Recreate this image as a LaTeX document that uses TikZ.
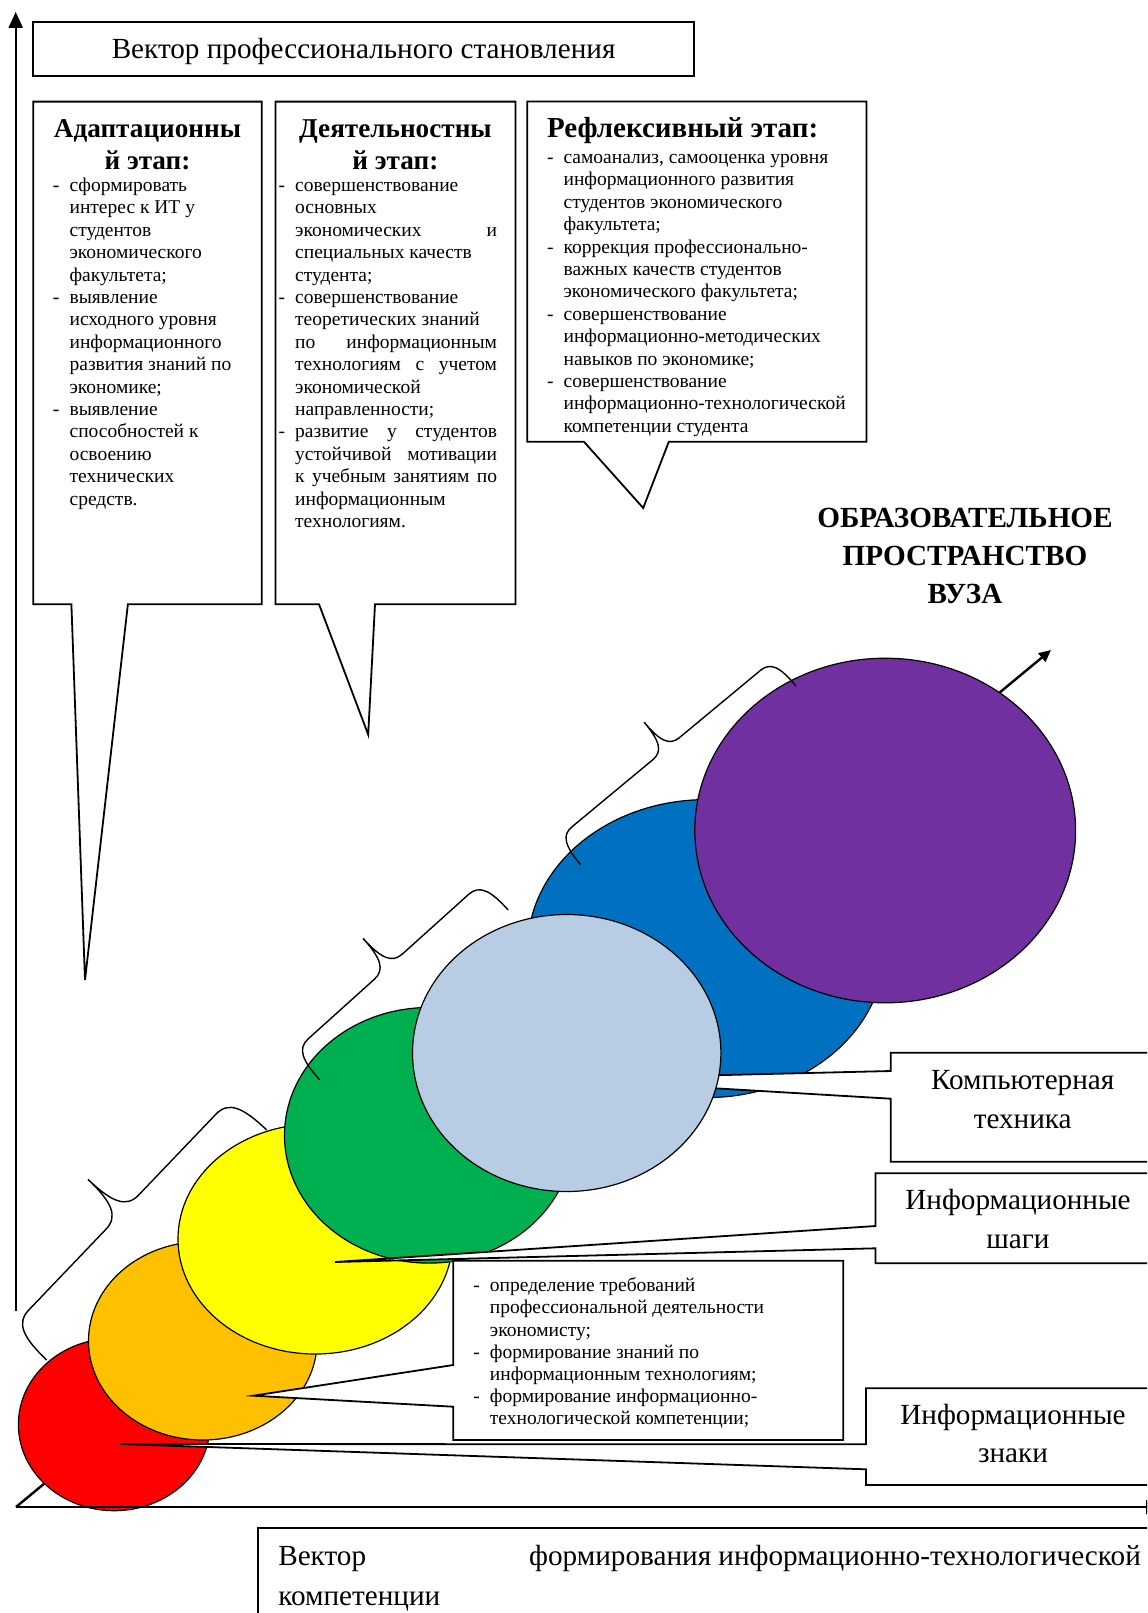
\documentclass[tikz,border=0pt]{standalone}
\usepackage{fontspec}
\setmainfont{Liberation Serif}
\usetikzlibrary{arrows.meta,shapes.geometric}

\definecolor{stageRed}{HTML}{FF0000}
\definecolor{stageOrange}{HTML}{FFC000}
\definecolor{stageYellow}{HTML}{FFFF00}
\definecolor{stageGreen}{HTML}{00B050}
\definecolor{stageSky}{HTML}{B8CCE4}
\definecolor{stageBlue}{HTML}{0070C0}
\definecolor{stagePurple}{HTML}{7030A0}

\newcommand\dashpt{\makebox[8.3pt][l]{-}}
\newcommand\indpt{\hspace*{8.3pt}}
\newcommand\justline[1]{\makebox[100.9pt][s]{#1}}

\tikzset{
  pics/stagebrace/.style 2 args={code={
    \draw[line width=0.7pt]
      (0,0) .. controls (0,{-0.35*#2}) and ({0.06*#2},{-0.5*#2}) .. ({0.25*#2},{-0.5*#2})
      -- ({#1/2-0.25*#2},{-0.5*#2})
      .. controls ({#1/2-0.06*#2},{-0.5*#2}) and ({#1/2},{-0.65*#2}) .. ({#1/2},{-#2})
      .. controls ({#1/2},{-0.65*#2}) and ({#1/2+0.06*#2},{-0.5*#2}) .. ({#1/2+0.25*#2},{-0.5*#2})
      -- ({#1-0.25*#2},{-0.5*#2})
      .. controls ({#1-0.06*#2},{-0.5*#2}) and (#1,{-0.35*#2}) .. (#1,0);
  }}
}

\begin{document}
\begin{tikzpicture}
  [x=0.5pt,y=-0.5pt,every node/.style={inner sep=0pt,outer sep=0pt}]

  \tikzstyle{stage}   = [draw,ellipse,line width=0.6pt]
  \tikzstyle{callout} = [draw,fill=white,line width=0.9pt]
  \tikzstyle{axis}    = [line width=1.2pt]
  \tikzstyle{small}   = [font=\fontsize{9.75}{11.2}\selectfont,align=left,anchor=base west]
  \tikzstyle{big}     = [font=\fontsize{14.6}{19.5}\selectfont,align=center,anchor=base]
  \tikzstyle{head}    = [font=\bfseries\fontsize{13.6}{15.75}\selectfont,align=center,anchor=base]

  \useasboundingbox (0,0) rectangle (1147,1613);
  \clip (0,0) rectangle (1147,1613);

  \coordinate (origin) at (16,1507);
  \coordinate (yTop)   at (15.7,11.9);
  \coordinate (yBot)   at (15.7,1311);
  \coordinate (xEnd)   at (1162,1507);
  \coordinate (dEnd)   at (1051,650);

  \draw[axis,-{Triangle[length=6pt,width=5.5pt]}] (origin) -- (dEnd);

  \node[stage,fill=stageRed,    minimum width=95.8pt, minimum height=86.2pt]  (red)    at (114.2,1424.5) {};
  \node[stage,fill=stageOrange, minimum width=114.3pt,minimum height=99.2pt]  (orange) at (202.8,1340.8) {};
  \node[stage,fill=stageYellow, minimum width=137.3pt,minimum height=115pt]   (yellow) at (315.3,1239) {};
  \node[stage,fill=stageGreen,  minimum width=144.3pt,minimum height=127.8pt] (green)  at (428.8,1135.3) {};
  \node[stage,fill=stageBlue,   minimum width=178.5pt,minimum height=149pt]   (blue)   at (706.2,948.6) {};
  \node[stage,fill=stagePurple, minimum width=190.4pt,minimum height=172.3pt] (purple) at (885.2,830.5) {};

  \coordinate (kompTip) at (559,1079);
  \draw[callout] (890.7,1052.7) -- (1160,1052.7) -- (1160,1161.8) -- (890.7,1161.8)
                 -- (890.7,1098.7) -- (kompTip) -- (890.7,1071) -- cycle;

  \node[stage,fill=stageSky,    minimum width=154.2pt,minimum height=138.5pt] (sky)    at (566.7,1053) {};

  \pic[rotate=46.3] at (46.7,1360)  {stagebrace={318.3}{95}};
  \pic[rotate=42]   at (319.6,1079.7) {stagebrace={253.7}{76}};
  \pic[rotate=39.7] at (580.5,864.6)  {stagebrace={279.9}{69}};

  \coordinate (shagiTip) at (335,1262);
  \coordinate (znakiTip) at (120,1444);
  \coordinate (reqTip)   at (253.3,1395.7);
  \draw[callout] (875.5,1173.3) -- (1160,1173.3) -- (1160,1263.3) -- (875.5,1263.3)
                 -- (875.5,1248.3) -- (shagiTip) -- (875.5,1226) -- cycle;
  \draw[callout] (866,1388.3) -- (1160,1388.3) -- (1160,1485) -- (866,1485)
                 -- (866,1469.3) -- (znakiTip) -- (866,1444.3) -- cycle;
  \draw[callout] (453.3,1260.7) -- (843.3,1260.7) -- (843.3,1440) -- (453.3,1440)
                 -- (453.3,1406.7) -- (reqTip) -- (453.3,1365) -- cycle;

  \draw[callout] (33.2,21.7) rectangle (694,75.9);
  \draw[callout] (33.2,101.6) -- (261.8,101.6) -- (261.8,604.2) -- (127.9,604.2)
                 -- (85,980) -- (71.4,604.2) -- (33.2,604.2) -- cycle;
  \draw[callout] (275.4,101.6) -- (515.4,101.6) -- (515.4,604.2) -- (375,604.2)
                 -- (368.2,734.6) -- (319,604.2) -- (275.4,604.2) -- cycle;
  \draw[callout] (527.2,101.4) -- (866.4,101.4) -- (866.4,441.8) -- (668.8,441.8)
                 -- (643.2,508) -- (584,441.8) -- (527.2,441.8) -- cycle;
  \draw[callout] (257.7,1528.3) rectangle (1160,1650);

  \draw[axis,-{Triangle[length=8pt,width=7pt]}] (yBot) -- (yTop);
  \draw[axis,-{Triangle[length=8pt,width=7pt]}] (origin) -- (xEnd);

  \node[big] (profVec) at (363.6,58) {Вектор профессионального становления};

  \node[head] (adaptHead) at (147.5,169) {Адаптационны\\й этап:};
  \node[head] (deyatHead) at (395.4,169) {Деятельностны\\й этап:};
  \node[head,font=\bfseries\fontsize{14.5}{15.75}\selectfont,anchor=base west]
    (reflHead) at (547,137.6) {Рефлексивный этап:};

  \node[small] (adaptText) at (53,505.1)
    {\dashpt сформировать\\
     \indpt интерес к ИТ у\\
     \indpt студентов\\
     \indpt экономического\\
     \indpt факультета;\\
     \dashpt выявление\\
     \indpt исходного уровня\\
     \indpt информационного\\
     \indpt развития знаний по\\
     \indpt экономике;\\
     \dashpt выявление\\
     \indpt способностей к\\
     \indpt освоению\\
     \indpt технических\\
     \indpt средств.};

  \node[small] (deyatText) at (278.6,527.5)
    {\dashpt совершенствование\\
     \indpt основных\\
     \indpt\justline{экономических и}\\
     \indpt специальных качеств\\
     \indpt студента;\\
     \dashpt совершенствование\\
     \indpt теоретических знаний\\
     \indpt\justline{по информационным}\\
     \indpt\justline{технологиям с учетом}\\
     \indpt экономической\\
     \indpt направленности;\\
     \dashpt\justline{развитие у студентов}\\
     \indpt\justline{устойчивой мотивации}\\
     \indpt\justline{к учебным занятиям по}\\
     \indpt информационным\\
     \indpt технологиям.};

  \node[small] (reflText) at (547,432.3)
    {\dashpt самоанализ, самооценка уровня\\
     \indpt информационного развития\\
     \indpt студентов экономического\\
     \indpt факультета;\\
     \dashpt коррекция профессионально-\\
     \indpt важных качеств студентов\\
     \indpt экономического факультета;\\
     \dashpt совершенствование\\
     \indpt информационно-методических\\
     \indpt навыков по экономике;\\
     \dashpt совершенствование\\
     \indpt информационно-технологической\\
     \indpt компетенции студента};

  \node[small,font=\fontsize{9.75}{11.1}\selectfont] (reqText) at (473.3,1424.8)
    {\dashpt определение требований\\
     \indpt профессиональной деятельности\\
     \indpt экономисту;\\
     \dashpt формирование знаний по\\
     \indpt информационным технологиям;\\
     \dashpt формирование информационно-\\
     \indpt технологической компетенции;};

  \node[font=\bfseries\fontsize{14.6}{19}\selectfont,align=center,anchor=base]
    (eduSpace) at (965,603.5) {ОБРАЗОВАТЕЛЬНОЕ\\ПРОСТРАНСТВО\\ВУЗА};

  \node[big] (kompText)  at (1022.7,1128.7) {Компьютерная\\техника};
  \node[big] (shagiText) at (1018,1248) {Информационные\\шаги};
  \node[big,font=\fontsize{14.6}{19.2}\selectfont] (znakiText) at (1013,1462.5) {Информационные\\знаки};

  \node[big,font=\fontsize{14.6}{20}\selectfont,align=left,anchor=base west] (compVec) at (278.3,1605.5)
    {\makebox[431.3pt][s]{Вектор\hfill формирования информационно-технологической}\\компетенции};
\end{tikzpicture}
\end{document}
